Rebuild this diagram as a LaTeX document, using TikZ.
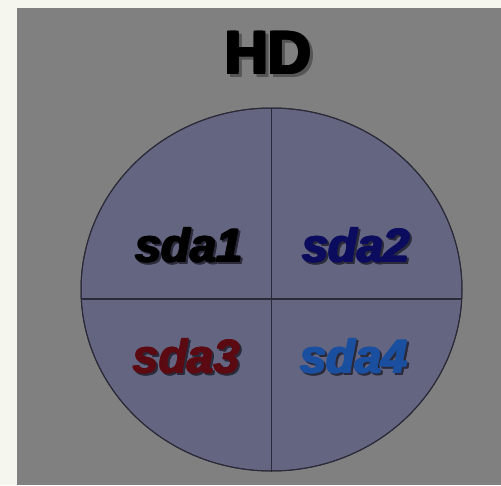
\documentclass[tikz,border=0pt]{standalone}
\usepackage{fontspec}
\usetikzlibrary{shapes.geometric}
\newfontfamily\heavyfont{Liberation Sans}
\definecolor{pagebg}{HTML}{F5F7EE}
\definecolor{panelgray}{HTML}{808080}
\definecolor{diskfill}{HTML}{646580}
\definecolor{diskline}{HTML}{2A2A38}
\definecolor{cnavy}{HTML}{0C0C5E}
\definecolor{cred}{HTML}{5C0A12}
\definecolor{cblue}{HTML}{1A4E9E}
\definecolor{hdshadow}{HTML}{555555}
\definecolor{labshadow}{HTML}{2A2A3A}
% thicken text by stacking offset copies
\newcommand{\fat}[2]{\rlap{#1}\rlap{\kern\dimexpr#2/2\relax#1}\rlap{\kern#2\relax#1}%
  \rlap{\raisebox{\dimexpr#2/2\relax}{#1}}\rlap{\kern\dimexpr#2/2\relax\raisebox{\dimexpr#2/2\relax}{#1}}%
  \rlap{\kern#2\relax\raisebox{\dimexpr#2/2\relax}{#1}}\hphantom{#1}\kern#2\relax}
\newcommand{\shadowed}[4]{\rlap{\kern#3\relax\raisebox{-#3}{\color{#1}\fat{#2}{#4}}}\fat{#2}{#4}}
\tikzset{
  title/.style={font=\heavyfont\bfseries\fontsize{60}{60}\selectfont, inner sep=0pt, anchor=base},
  part/.style={font=\heavyfont\bfseries\itshape\fontsize{47}{47}\selectfont, inner sep=0pt, anchor=base},
  divider/.style={draw=diskline, line width=1.2pt}
}
\begin{document}
\begin{tikzpicture}[x=1pt,y=-1pt]
\useasboundingbox (0,0) rectangle (501,485);
\fill[pagebg] (0,0) rectangle (501,485);
\fill[panelgray] (17,8) rectangle (501,485);
% title with shadow
\node[title, text=black] (hd) at (268,74) {\shadowed{hdshadow}{HD}{3pt}{3pt}};
% disk
\node[ellipse, draw=diskline, line width=1pt, fill=diskfill, minimum width=381pt, minimum height=363pt, inner sep=0pt] (disk) at (271.5,289.5) {};
\begin{scope}
  \clip (271.5,289.5) ellipse [x radius=190.5pt, y radius=181.5pt];
  \coordinate (hl) at (60,299);
  \coordinate (hr) at (480,299);
  \draw[divider] (hl) -- (hr);
\end{scope}
\draw[divider] (disk.north) -- (disk.south);
\node[ellipse, draw=diskline, line width=1pt, minimum width=381pt, minimum height=363pt, inner sep=0pt] (diskedge) at (271.5,289.5) {};
% labels
\node[part, text=black] (s1) at (189,262) {\shadowed{labshadow}{sda1}{2pt}{1.6pt}};
\node[part, text=cnavy] (s2) at (356,262) {\shadowed{labshadow}{sda2}{2pt}{1.6pt}};
\node[part, text=cred] (s3) at (186.5,373) {\shadowed{labshadow}{sda3}{2pt}{1.6pt}};
\node[part, text=cblue] (s4) at (354,373) {\shadowed{labshadow}{sda4}{2pt}{1.6pt}};
\end{tikzpicture}
\end{document}
